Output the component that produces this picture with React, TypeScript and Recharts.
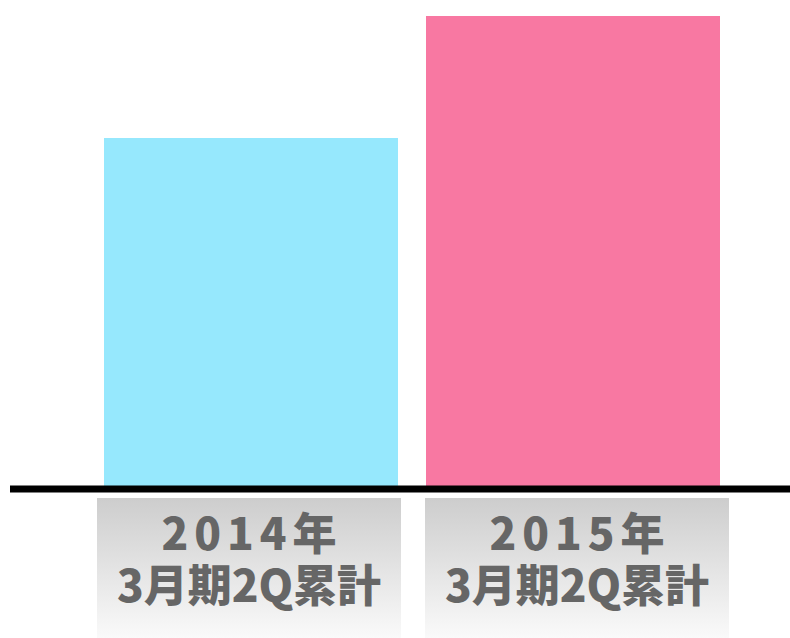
import { Bar, BarChart, Cell, XAxis, YAxis } from 'recharts';

const years = ['2014年', '2015年'];
const periods = ['3月期2Q累計', '3月期2Q累計'];
const values = [74.2, 100];
const colors = ['#96E8FD', '#F878A2'];

const data = years.map((year, i) => ({ year, period: periods[i], value: values[i] }));

const boxShift = [-2, 4];

function LabelTick({ x, y, payload, index }: any) {
  const period = periods[index] ?? periods[0];
  const cx = x + (boxShift[index] ?? 0);
  return (
    <g>
      <rect x={cx - 152} y={y + 9} width={304} height={141} fill="url(#labelGrad)" />
      <text
        x={cx + 3}
        y={y + 61}
        textAnchor="middle"
        fill="#666666"
        fontSize={44}
        fontWeight={900}
        letterSpacing={6}
        fontFamily='"Noto Sans CJK JP", sans-serif'
      >
        {payload.value}
      </text>
      <text
        x={cx}
        y={y + 113}
        textAnchor="middle"
        fill="#666666"
        fontSize={44}
        fontWeight={900}
        fontFamily='"Noto Sans CJK JP", sans-serif'
      >
        {period}
      </text>
    </g>
  );
}

export default function App() {
  return (
    <div style={{ position: 'fixed', left: 0, top: 0, width: 790, height: 638, background: '#fff' }}>
      <BarChart width={790} height={638} data={data} margin={{ top: 16, right: 0, left: 10, bottom: 0 }}>
        <defs>
          <linearGradient id="labelGrad" x1="0" y1="0" x2="0" y2="1">
            <stop offset="0%" stopColor="#cdcdcd" />
            <stop offset="100%" stopColor="#fafafa" />
          </linearGradient>
        </defs>
        <YAxis hide width={0} domain={[0, 100]} />
        <XAxis
          dataKey="year"
          height={149}
          padding={{ left: 80, right: 56 }}
          axisLine={{ stroke: '#000000', strokeWidth: 7 }}
          tickLine={false}
          tickSize={0}
          tickMargin={0}
          interval={0}
          tick={<LabelTick />}
        />
        <Bar dataKey="value" barSize={294} isAnimationActive={false}>
          {data.map((_, i) => (
            <Cell key={`cell-${i}`} fill={colors[i]} />
          ))}
        </Bar>
      </BarChart>
    </div>
  );
}
